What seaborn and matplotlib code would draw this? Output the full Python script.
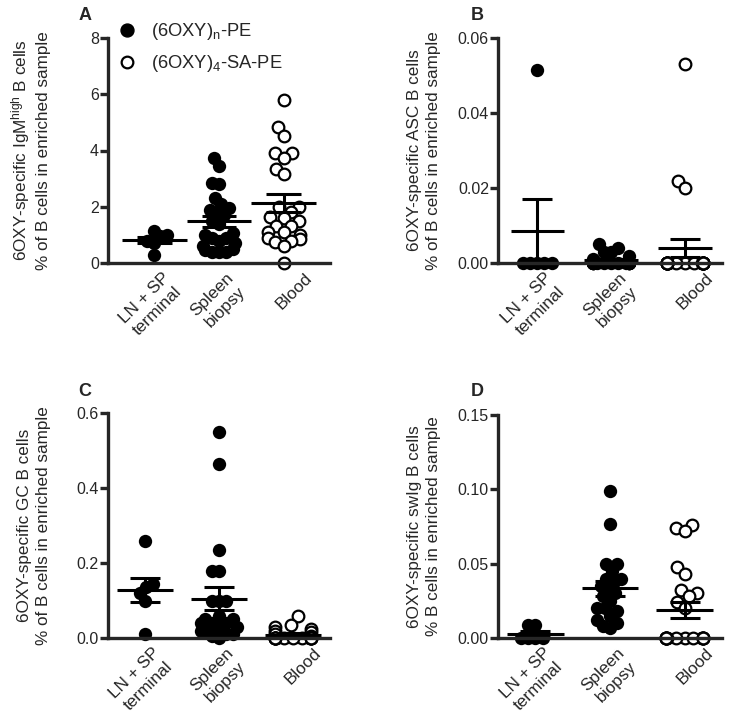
import warnings
import numpy as np
import pandas as pd
import matplotlib
matplotlib.use("Agg")
import matplotlib.pyplot as plt
import matplotlib.transforms as mtrans
from matplotlib.collections import PathCollection
from matplotlib.lines import Line2D
from matplotlib.ticker import FormatStrFormatter
import seaborn as sns

warnings.filterwarnings("ignore")

# ---- data ----
groups = ["LN + SP\nterminal", "Spleen\nbiopsy", "Blood"]

# A: IgM-high B cells
a_ln = [1.0, 1.15, 0.8, 0.7, 0.95, 0.3]
a_spleen = [3.75, 3.45, 2.85, 2.8, 2.3, 2.1, 1.95, 1.9, 1.8, 1.7, 1.5, 1.4,
            1.05, 1.0, 0.9, 0.9, 0.8, 0.7, 0.6, 0.5, 0.45, 0.4, 0.4, 0.4]
a_blood = [5.8, 4.85, 4.5, 3.9, 3.9, 3.75, 3.35, 3.15, 2.0, 2.0, 1.8, 1.65, 1.6,
           1.5, 1.3, 1.3, 1.1, 1.1, 1.0, 0.9, 0.85, 0.8, 0.75, 0.6, 0.0]

# B: ASC B cells
b_ln = [0.0515, 0, 0, 0, 0, 0]
b_spleen = [0.005, 0.004, 0.003, 0.003, 0.002, 0.001, 0, 0, 0, 0, 0, 0,
            0, 0, 0, 0, 0, 0, 0, 0, 0, 0, 0, 0]
b_blood = [0.053, 0.022, 0.020, 0, 0, 0, 0, 0, 0, 0, 0, 0,
           0, 0, 0, 0, 0, 0, 0, 0, 0, 0, 0, 0]

# C: GC B cells
c_ln = [0.26, 0.145, 0.12, 0.135, 0.10, 0.01]
c_spleen = [0.55, 0.465, 0.235, 0.18, 0.18, 0.10, 0.10, 0.10, 0.06, 0.05, 0.05,
            0.04, 0.04, 0.04, 0.03, 0.03, 0.02, 0.02, 0.01, 0.01, 0.005, 0.0]
c_blood = [0.06, 0.035, 0.03, 0.025, 0.02, 0.015, 0.01, 0.005, 0, 0, 0, 0,
           0, 0, 0, 0, 0, 0, 0, 0, 0, 0]

# D: swIg B cells
d_ln = [0.0085, 0.0085, 0, 0, 0, 0]
d_spleen = [0.099, 0.077, 0.05, 0.05, 0.045, 0.04, 0.04, 0.038, 0.035, 0.033,
            0.03, 0.028, 0.025, 0.02, 0.02, 0.018, 0.015, 0.012, 0.01, 0.008, 0.007]
d_blood = [0.076, 0.074, 0.072, 0.048, 0.043, 0.032, 0.030, 0.028, 0.024, 0.02,
           0, 0, 0, 0, 0, 0, 0, 0, 0, 0, 0, 0, 0, 0]

legend_labels = [r"(6OXY)$_{\mathrm{n}}$-PE", r"(6OXY)$_{\mathrm{4}}$-SA-PE"]

sns.set_theme(style="ticks")
plt.rcParams["font.family"] = ["Liberation Sans", "DejaVu Sans"]
plt.rcParams["mathtext.fontset"] = "custom"
plt.rcParams["mathtext.rm"] = "Liberation Sans"
plt.rcParams["mathtext.it"] = "Liberation Sans:italic"

W, H = 730, 723
fig = plt.figure(figsize=(W / 100, H / 100), dpi=100)

# swarm is laid out with one marker size, then squeezed and drawn bigger
# so points overlap the way the prism figure does
LAYOUT_SIZE = 8.0
SQUEEZE = 0.62
FILLED_SIZE = 9.6
OPEN_SIZE = 8.4


def add_axes(left, top, right, bottom):
    # pixel box -> figure fraction
    return fig.add_axes([left / W, 1 - bottom / H, (right - left) / W, (bottom - top) / H])


def panel(ax, ln, spleen, blood, ymax, yticks, fmt, ylabel, xlim, mean_w, cap_w):
    filled = pd.DataFrame({"group": [groups[0]] * len(ln) + [groups[1]] * len(spleen),
                           "value": ln + spleen})
    opened = pd.DataFrame({"group": [groups[2]] * len(blood), "value": blood})

    sns.swarmplot(data=filled, x="group", y="value", order=groups, color="black",
                  size=LAYOUT_SIZE, ax=ax)
    sns.swarmplot(data=opened, x="group", y="value", order=groups, color="white",
                  edgecolor="black", linewidth=1.6, size=LAYOUT_SIZE, ax=ax)
    for coll in ax.collections:
        coll.set_clip_on(False)

    # mean +/- SEM, prism style
    for i, vals in enumerate([ln, spleen, blood]):
        v = np.asarray(vals, dtype=float)
        m = v.mean()
        se = v.std(ddof=1) / np.sqrt(len(v))
        kw = dict(color="black", lw=2.2, zorder=6, clip_on=False)
        ax.hlines(m, i - mean_w, i + mean_w, **kw)
        ax.hlines([m - se, m + se], i - cap_w, i + cap_w, **kw)
        ax.vlines(i, m - se, m + se, **kw)

    ax.set_xlim(*xlim)
    ax.set_ylim(0, ymax)
    ax.set_yticks(yticks)
    ax.yaxis.set_major_formatter(FormatStrFormatter(fmt))
    ax.set_xlabel("")
    ax.set_ylabel(ylabel, fontsize=12.3, linespacing=1.35)
    ax.yaxis.set_label_coords(-0.255, 0.5)

    sns.despine(ax=ax)
    for s in ["left", "bottom"]:
        ax.spines[s].set_linewidth(2.4)
        ax.spines[s].set_zorder(7)
    ax.tick_params(axis="y", direction="out", length=5.5, width=2.4, labelsize=11.5, pad=1)
    ax.tick_params(axis="x", length=0, labelsize=12.4, pad=5)
    # rotated labels: right/top edges of the rotated box sit right of the category
    off = mtrans.ScaledTranslation(0.31, 0, fig.dpi_scale_trans)
    for lab in ax.get_xticklabels():
        lab.set_rotation(45)
        lab.set_rotation_mode("default")
        lab.set_ha("right")
        lab.set_va("top")
        lab.set_multialignment("center")
        lab.set_linespacing(1.3)
        lab.set_transform(lab.get_transform() + off)


ax_a = add_axes(108, 38, 330, 263)
ax_b = add_axes(498, 38, 722, 263)
ax_c = add_axes(108, 413, 330, 638)
ax_d = add_axes(498, 415, 722, 638)

panel(ax_a, a_ln, a_spleen, a_blood, 8, [0, 2, 4, 6, 8], "%d",
      "6OXY-specific IgM$^{\\mathrm{high}}$ B cells\n% of B cells in enriched sample",
      (-0.72, 2.72), 0.5, 0.27)
panel(ax_b, b_ln, b_spleen, b_blood, 0.06, [0, 0.02, 0.04, 0.06], "%.2f",
      "6OXY-specific ASC B cells\n% of B cells in enriched sample",
      (-0.53, 2.5), 0.36, 0.2)
panel(ax_c, c_ln, c_spleen, c_blood, 0.6, [0, 0.2, 0.4, 0.6], "%.1f",
      "6OXY-specific GC B cells\n% of B cells in enriched sample",
      (-0.5, 2.5), 0.38, 0.2)
panel(ax_d, d_ln, d_spleen, d_blood, 0.15, [0, 0.05, 0.10, 0.15], "%.2f",
      "6OXY-specific swIg B cells\n% B cells in enriched sample",
      (-0.5, 2.5), 0.38, 0.2)

# lay the swarms out, then freeze positions, squeeze them and enlarge the markers
fig.canvas.draw()
for ax in [ax_a, ax_b, ax_c, ax_d]:
    for coll in ax.collections:
        if not isinstance(coll, PathCollection):
            continue
        if "draw" in coll.__dict__:
            del coll.draw
        xy = np.asarray(coll.get_offsets(), dtype=float).copy()
        if len(xy):
            centre = np.round(xy[:, 0])
            xy[:, 0] = centre + (xy[:, 0] - centre) * SQUEEZE
            coll.set_offsets(xy)
        fc = coll.get_facecolor()
        is_open = len(fc) > 0 and fc[0][0] > 0.5
        coll.set_sizes([(OPEN_SIZE if is_open else FILLED_SIZE) ** 2])

# panel letters
for letter, (px, py) in zip("ABCD", [(85, 15), (477, 15), (85, 392), (477, 392)]):
    fig.text(px / W, 1 - py / H, letter, fontsize=13, fontweight="bold",
             ha="center", va="center")

# legend for reagent
handles = [
    Line2D([], [], ls="none", marker="o", markersize=9.3, color="black"),
    Line2D([], [], ls="none", marker="o", markersize=8.4, markerfacecolor="white",
           markeredgecolor="black", markeredgewidth=1.6),
]
fig.legend(handles, legend_labels, loc="upper left",
           bbox_to_anchor=(116 / W, 1 - 21 / H), frameon=False, fontsize=13.2,
           handlelength=1.2, handletextpad=0.7, labelspacing=0.62,
           borderpad=0, borderaxespad=0)

fig.savefig("out.png", dpi=100)
